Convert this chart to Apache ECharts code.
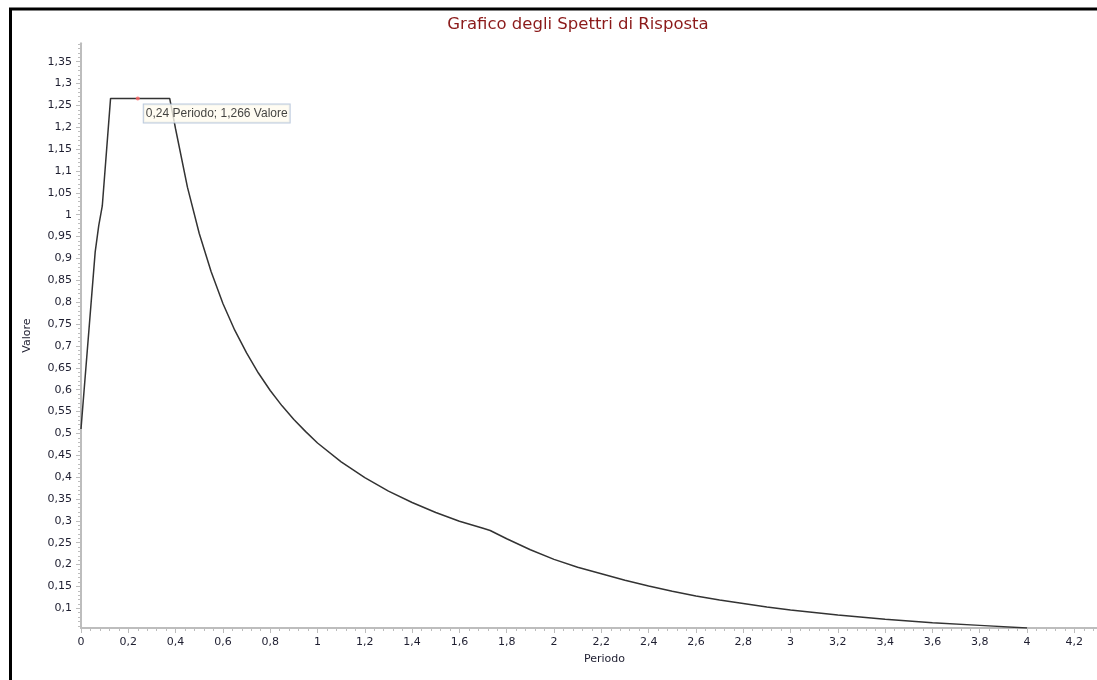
<!DOCTYPE html>
<html>
<head>
<meta charset="utf-8">
<script src="https://cdn.jsdelivr.net/npm/echarts@6/dist/echarts.min.js"></script>
<style>
html,body{margin:0;padding:0;background:#fff;}
#c{width:1097px;height:680px;}
</style>
</head>
<body>
<div id="c"></div>
<script>
// Periodo (s)
const periodo = [0, 0.06, 0.075, 0.09, 0.125, 0.375, 0.4, 0.45, 0.5, 0.55, 0.6, 0.65, 0.7, 0.75, 0.8, 0.85, 0.9, 0.95, 1.0, 1.1, 1.2, 1.3, 1.4, 1.5, 1.6, 1.7, 1.73, 1.8, 1.9, 2.0, 2.1, 2.2, 2.3, 2.4, 2.5, 2.6, 2.7, 2.8, 2.9, 3.0, 3.2, 3.4, 3.6, 3.8, 4.0];
// Valore
const valore = [0.51, 0.915, 0.975, 1.02, 1.266, 1.266, 1.196, 1.063, 0.957, 0.870, 0.797, 0.736, 0.684, 0.638, 0.598, 0.563, 0.532, 0.504, 0.478, 0.435, 0.399, 0.368, 0.342, 0.319, 0.299, 0.283, 0.278, 0.259, 0.234, 0.212, 0.194, 0.179, 0.164, 0.151, 0.139, 0.128, 0.119, 0.111, 0.103, 0.096, 0.085, 0.075, 0.067, 0.061, 0.055];
// highlighted point
const puntoPeriodo = 0.24;
const puntoValore = 1.266;
// y tick labels
const yTickValori = [0.1, 0.15, 0.2, 0.25, 0.3, 0.35, 0.4, 0.45, 0.5, 0.55, 0.6, 0.65, 0.7, 0.75, 0.8, 0.85, 0.9, 0.95, 1, 1.05, 1.1, 1.15, 1.2, 1.25, 1.3, 1.35];
const yMin = 0.055, yMax = 1.392;
const xMin = 0, xMax = 4.3, xStep = 0.2;

const fmt = v => String(+(+v).toFixed(3)).replace('.', ',');

const yMinor = [];
for (let k = 6; k <= 139; k++) yMinor.push(+(k / 100).toFixed(2));

const axisGray = '#bdbdbd';
const labelStyle = { fontFamily: 'DejaVu Sans', fontSize: 11, color: '#1e1e30' };

const chart = echarts.init(document.getElementById('c'));
chart.setOption({
  animation: false,
  backgroundColor: '#ffffff',
  title: {
    text: 'Grafico degli Spettri di Risposta',
    left: 573, top: 11, textAlign: 'center',
    textStyle: { fontFamily: 'DejaVu Sans', fontSize: 16.5, fontWeight: 'normal', color: '#8b1a1a' }
  },
  grid: { left: 81, top: 43.3, width: 1017, height: 584.7, outerBoundsMode: 'none', containLabel: false },
  xAxis: {
    type: 'value', min: xMin, max: xMax, interval: xStep,
    name: 'Periodo', nameLocation: 'middle', nameGap: 26,
    nameTextStyle: Object.assign({}, labelStyle, { padding: [0, 0, 0, 30] }),
    axisLine: { show: true, onZero: false, lineStyle: { color: axisGray, width: 2 } },
    axisTick: { show: true, length: 5, lineStyle: { color: axisGray } },
    minorTick: { show: true, splitNumber: 5, length: 3, lineStyle: { color: axisGray } },
    axisLabel: Object.assign({}, labelStyle, { margin: 9, showMaxLabel: false, formatter: fmt }),
    splitLine: { show: false }
  },
  yAxis: [{
    type: 'value', min: yMin, max: yMax,
    name: 'Valore', nameLocation: 'middle', nameGap: 48, nameRotate: 90,
    nameTextStyle: labelStyle,
    axisLine: { show: true, onZero: false, lineStyle: { color: axisGray, width: 2 } },
    axisTick: { show: true, length: 3, customValues: yMinor, lineStyle: { color: axisGray } },
    axisLabel: Object.assign({}, labelStyle, { margin: 9, customValues: yTickValori, formatter: fmt }),
    splitLine: { show: false }
  }, {
    type: 'value', min: yMin, max: yMax, position: 'left',
    axisLine: { show: false },
    axisTick: { show: true, length: 5, customValues: yTickValori, lineStyle: { color: axisGray } },
    axisLabel: { show: false },
    splitLine: { show: false }
  }],
  series: [{
    type: 'line',
    data: periodo.map((t, i) => [t, valore[i]]),
    showSymbol: false,
    lineStyle: { color: '#333333', width: 1.5 },
    z: 2
  }, {
    type: 'scatter',
    data: [[puntoPeriodo, puntoValore]],
    symbolSize: 4,
    itemStyle: { color: '#ff6464' },
    z: 3,
    label: {
      show: true,
      position: [8, 8],
      formatter: p => fmt(p.value[0]) + ' Periodo; ' + fmt(p.value[1]) + ' Valore',
      fontFamily: 'Liberation Sans', fontSize: 12, color: '#111',
      backgroundColor: '#fffbef', borderColor: '#a9bcd4', borderWidth: 1,
      padding: [3, 2, 3, 2]
    }
  }],
  graphic: [
    { type: 'line', shape: { x1: 9, y1: 9, x2: 1097, y2: 9 }, style: { stroke: '#000', lineWidth: 3 } },
    { type: 'line', shape: { x1: 10.5, y1: 8, x2: 10.5, y2: 680 }, style: { stroke: '#000', lineWidth: 3 } }
  ]
});
</script>
</body>
</html>
